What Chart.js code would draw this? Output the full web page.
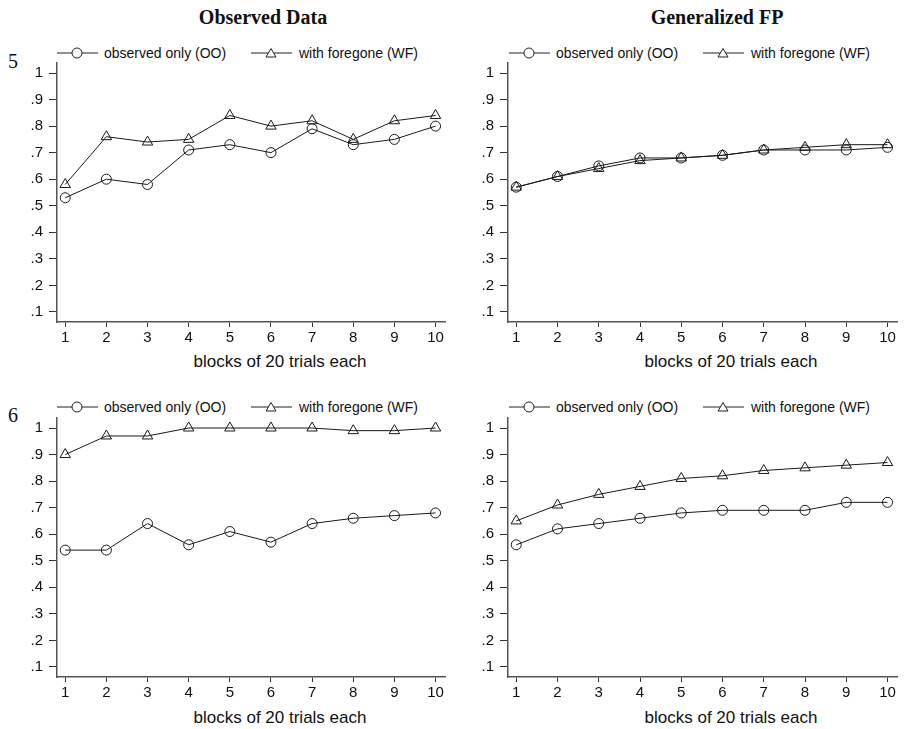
<!DOCTYPE html>
<html>
<head>
<meta charset="utf-8">
<script src="https://cdn.jsdelivr.net/npm/chart.js@4.4.1/dist/chart.umd.min.js"></script>
<style>
  html, body { margin:0; padding:0; background:#fff; overflow:hidden; }
  body { width:904px; height:729px; position:relative; font-family:"Liberation Sans", Arial, sans-serif; color:#111; }
  canvas { position:absolute; }
  .ttl { position:absolute; font-family:"Liberation Serif","Times New Roman",serif; font-weight:bold; font-size:20px; line-height:20px; text-align:center; width:300px; }
  .num { position:absolute; font-family:"Liberation Serif","Times New Roman",serif; font-size:20px; line-height:20px; }
  .xt { position:absolute; font-size:17px; line-height:17px; width:300px; text-align:center; }
  .leg { position:absolute; font-size:14px; line-height:14px; white-space:nowrap; }
  .leg svg { position:absolute; }
  .leg span { position:absolute; }
</style>
</head>
<body>
<script>
// ---------------- data ----------------
const blocks = [1, 2, 3, 4, 5, 6, 7, 8, 9, 10];
const yTickValues = [0.1, 0.2, 0.3, 0.4, 0.5, 0.6, 0.7, 0.8, 0.9, 1.0];
const seriesNames = ["observed only (OO)", "with foregone (WF)"];
const panelTitles = ["Observed Data", "Generalized FP"];
const rowLabels = ["5", "6"];
const xAxisTitle = "blocks of 20 trials each";

const obs5_OO = [0.53, 0.60, 0.58, 0.71, 0.73, 0.70, 0.79, 0.73, 0.75, 0.80];
const obs5_WF = [0.58, 0.76, 0.74, 0.75, 0.84, 0.80, 0.82, 0.75, 0.82, 0.84];
const fp5_OO  = [0.57, 0.61, 0.65, 0.68, 0.68, 0.69, 0.71, 0.71, 0.71, 0.72];
const fp5_WF  = [0.57, 0.61, 0.64, 0.67, 0.68, 0.69, 0.71, 0.72, 0.73, 0.73];
const obs6_OO = [0.54, 0.54, 0.64, 0.56, 0.61, 0.57, 0.64, 0.66, 0.67, 0.68];
const obs6_WF = [0.90, 0.97, 0.97, 1.00, 1.00, 1.00, 1.00, 0.99, 0.99, 1.00];
const fp6_OO  = [0.56, 0.62, 0.64, 0.66, 0.68, 0.69, 0.69, 0.69, 0.72, 0.72];
const fp6_WF  = [0.65, 0.71, 0.75, 0.78, 0.81, 0.82, 0.84, 0.85, 0.86, 0.87];

// ---------------- layout ----------------
const panels = [
  { oo: obs5_OO, wf: obs5_WF, cx: 0,   cy: 47,  yw: 57, pr: 5 },
  { oo: fp5_OO,  wf: fp5_WF,  cx: 452, cy: 47,  yw: 56, pr: 6 },
  { oo: obs6_OO, wf: obs6_WF, cx: 0,   cy: 402, yw: 57, pr: 5 },
  { oo: fp6_OO,  wf: fp6_WF,  cx: 452, cy: 402, yw: 56, pr: 6 }
];
const PADTOP = 16, PLOTH = 259, XH = 30;
const INK = '#1a1a1a';

function el(tag, cls, css, txt) {
  const e = document.createElement(tag);
  if (cls) e.className = cls;
  Object.assign(e.style, css || {});
  if (txt !== undefined) e.textContent = txt;
  document.body.appendChild(e);
  return e;
}

// titles
el('div', 'ttl', { left: (263 - 150) + 'px', top: '7px' }, panelTitles[0]);
el('div', 'ttl', { left: (717 - 150) + 'px', top: '7px' }, panelTitles[1]);
el('div', 'num', { left: '8px', top: '51px' }, rowLabels[0]);
el('div', 'num', { left: '8px', top: '405px' }, rowLabels[1]);

function legend(x0, y0) {
  const circ = '<svg width="42" height="14" style="left:0;top:0"><line x1="0" y1="7" x2="15" y2="7" stroke="#222" stroke-width="1"/><line x1="25" y1="7" x2="41" y2="7" stroke="#222" stroke-width="1"/><circle cx="20" cy="7" r="5" fill="none" stroke="#222" stroke-width="1"/></svg>';
  const tri = '<svg width="42" height="14" style="left:0;top:0"><line x1="0" y1="7" x2="41" y2="7" stroke="#222" stroke-width="1"/><polygon points="20,2.5 25,11 15,11" fill="#fff" stroke="#222" stroke-width="1"/></svg>';
  const a = el('div', 'leg', { left: x0 + 'px', top: (y0 - 7) + 'px', width: '400px', height: '14px' });
  a.innerHTML = circ + '<span style="left:47px;top:0">' + seriesNames[0] + '</span>' +
    '<div style="position:absolute;left:194px;top:0">' + tri + '</div>' +
    '<span style="left:242px;top:0">' + seriesNames[1] + '</span>';
}
legend(57, 53); legend(509, 53); legend(57, 407); legend(509, 407);

el('div', 'xt', { left: (280 - 150) + 'px', top: '353px' }, xAxisTitle);
el('div', 'xt', { left: (731 - 150) + 'px', top: '353px' }, xAxisTitle);
el('div', 'xt', { left: (280 - 150) + 'px', top: '709px' }, xAxisTitle);
el('div', 'xt', { left: (731 - 150) + 'px', top: '709px' }, xAxisTitle);

const tickFont = { family: '"Liberation Sans", Arial, sans-serif', size: 15 };

function fmtY(v) {
  if (Math.abs(v - 1) < 1e-9) return '1';
  return '.' + Math.round(v * 10);
}

panels.forEach(p => {
  const c = document.createElement('canvas');
  const w = 452, h = PADTOP + PLOTH + XH;
  c.width = w; c.height = h;
  c.style.left = p.cx + 'px'; c.style.top = p.cy + 'px';
  c.style.width = w + 'px'; c.style.height = h + 'px';
  document.body.appendChild(c);
  new Chart(c, {
    type: 'line',
    data: {
      datasets: [
        { label: seriesNames[0], data: blocks.map((b, i) => ({ x: b, y: p.oo[i] })),
          borderColor: INK, borderWidth: 1, pointStyle: 'circle', pointRadius: 5,
          pointBorderColor: INK, pointBackgroundColor: 'rgba(0,0,0,0)', pointBorderWidth: 1, tension: 0 },
        { label: seriesNames[1], data: blocks.map((b, i) => ({ x: b, y: p.wf[i] })),
          borderColor: INK, borderWidth: 1, pointStyle: 'triangle', pointRadius: 6,
          pointBorderColor: INK, pointBackgroundColor: 'rgba(0,0,0,0)', pointBorderWidth: 1, tension: 0 }
      ]
    },
    options: {
      responsive: false, animation: false, devicePixelRatio: 1,
      layout: { padding: { top: PADTOP, right: p.pr, left: 0, bottom: 0 } },
      plugins: { legend: { display: false }, tooltip: { enabled: false } },
      scales: {
        x: {
          type: 'linear', min: 0.8, max: 10.23,
          afterBuildTicks: s => { s.ticks = blocks.map(v => ({ value: v })); },
          afterFit: s => { s.height = XH; },
          ticks: { callback: v => String(v), font: tickFont, color: '#111', padding: 2, maxRotation: 0, autoSkip: false },
          grid: { drawOnChartArea: false, drawTicks: true, tickLength: 5, color: '#333', lineWidth: 1 },
          border: { display: true, color: '#555', width: 1.5 }
        },
        y: {
          type: 'linear', min: 0.062, max: 1.0377,
          afterBuildTicks: s => { s.ticks = yTickValues.map(v => ({ value: v })); },
          afterFit: s => { s.width = p.yw; },
          ticks: { callback: v => fmtY(v), font: tickFont, color: '#111', padding: 6, autoSkip: false },
          grid: { drawOnChartArea: false, drawTicks: true, tickLength: 8, color: '#333', lineWidth: 1 },
          border: { display: true, color: '#555', width: 1.5 }
        }
      }
    }
  });
});
</script>
</body>
</html>
